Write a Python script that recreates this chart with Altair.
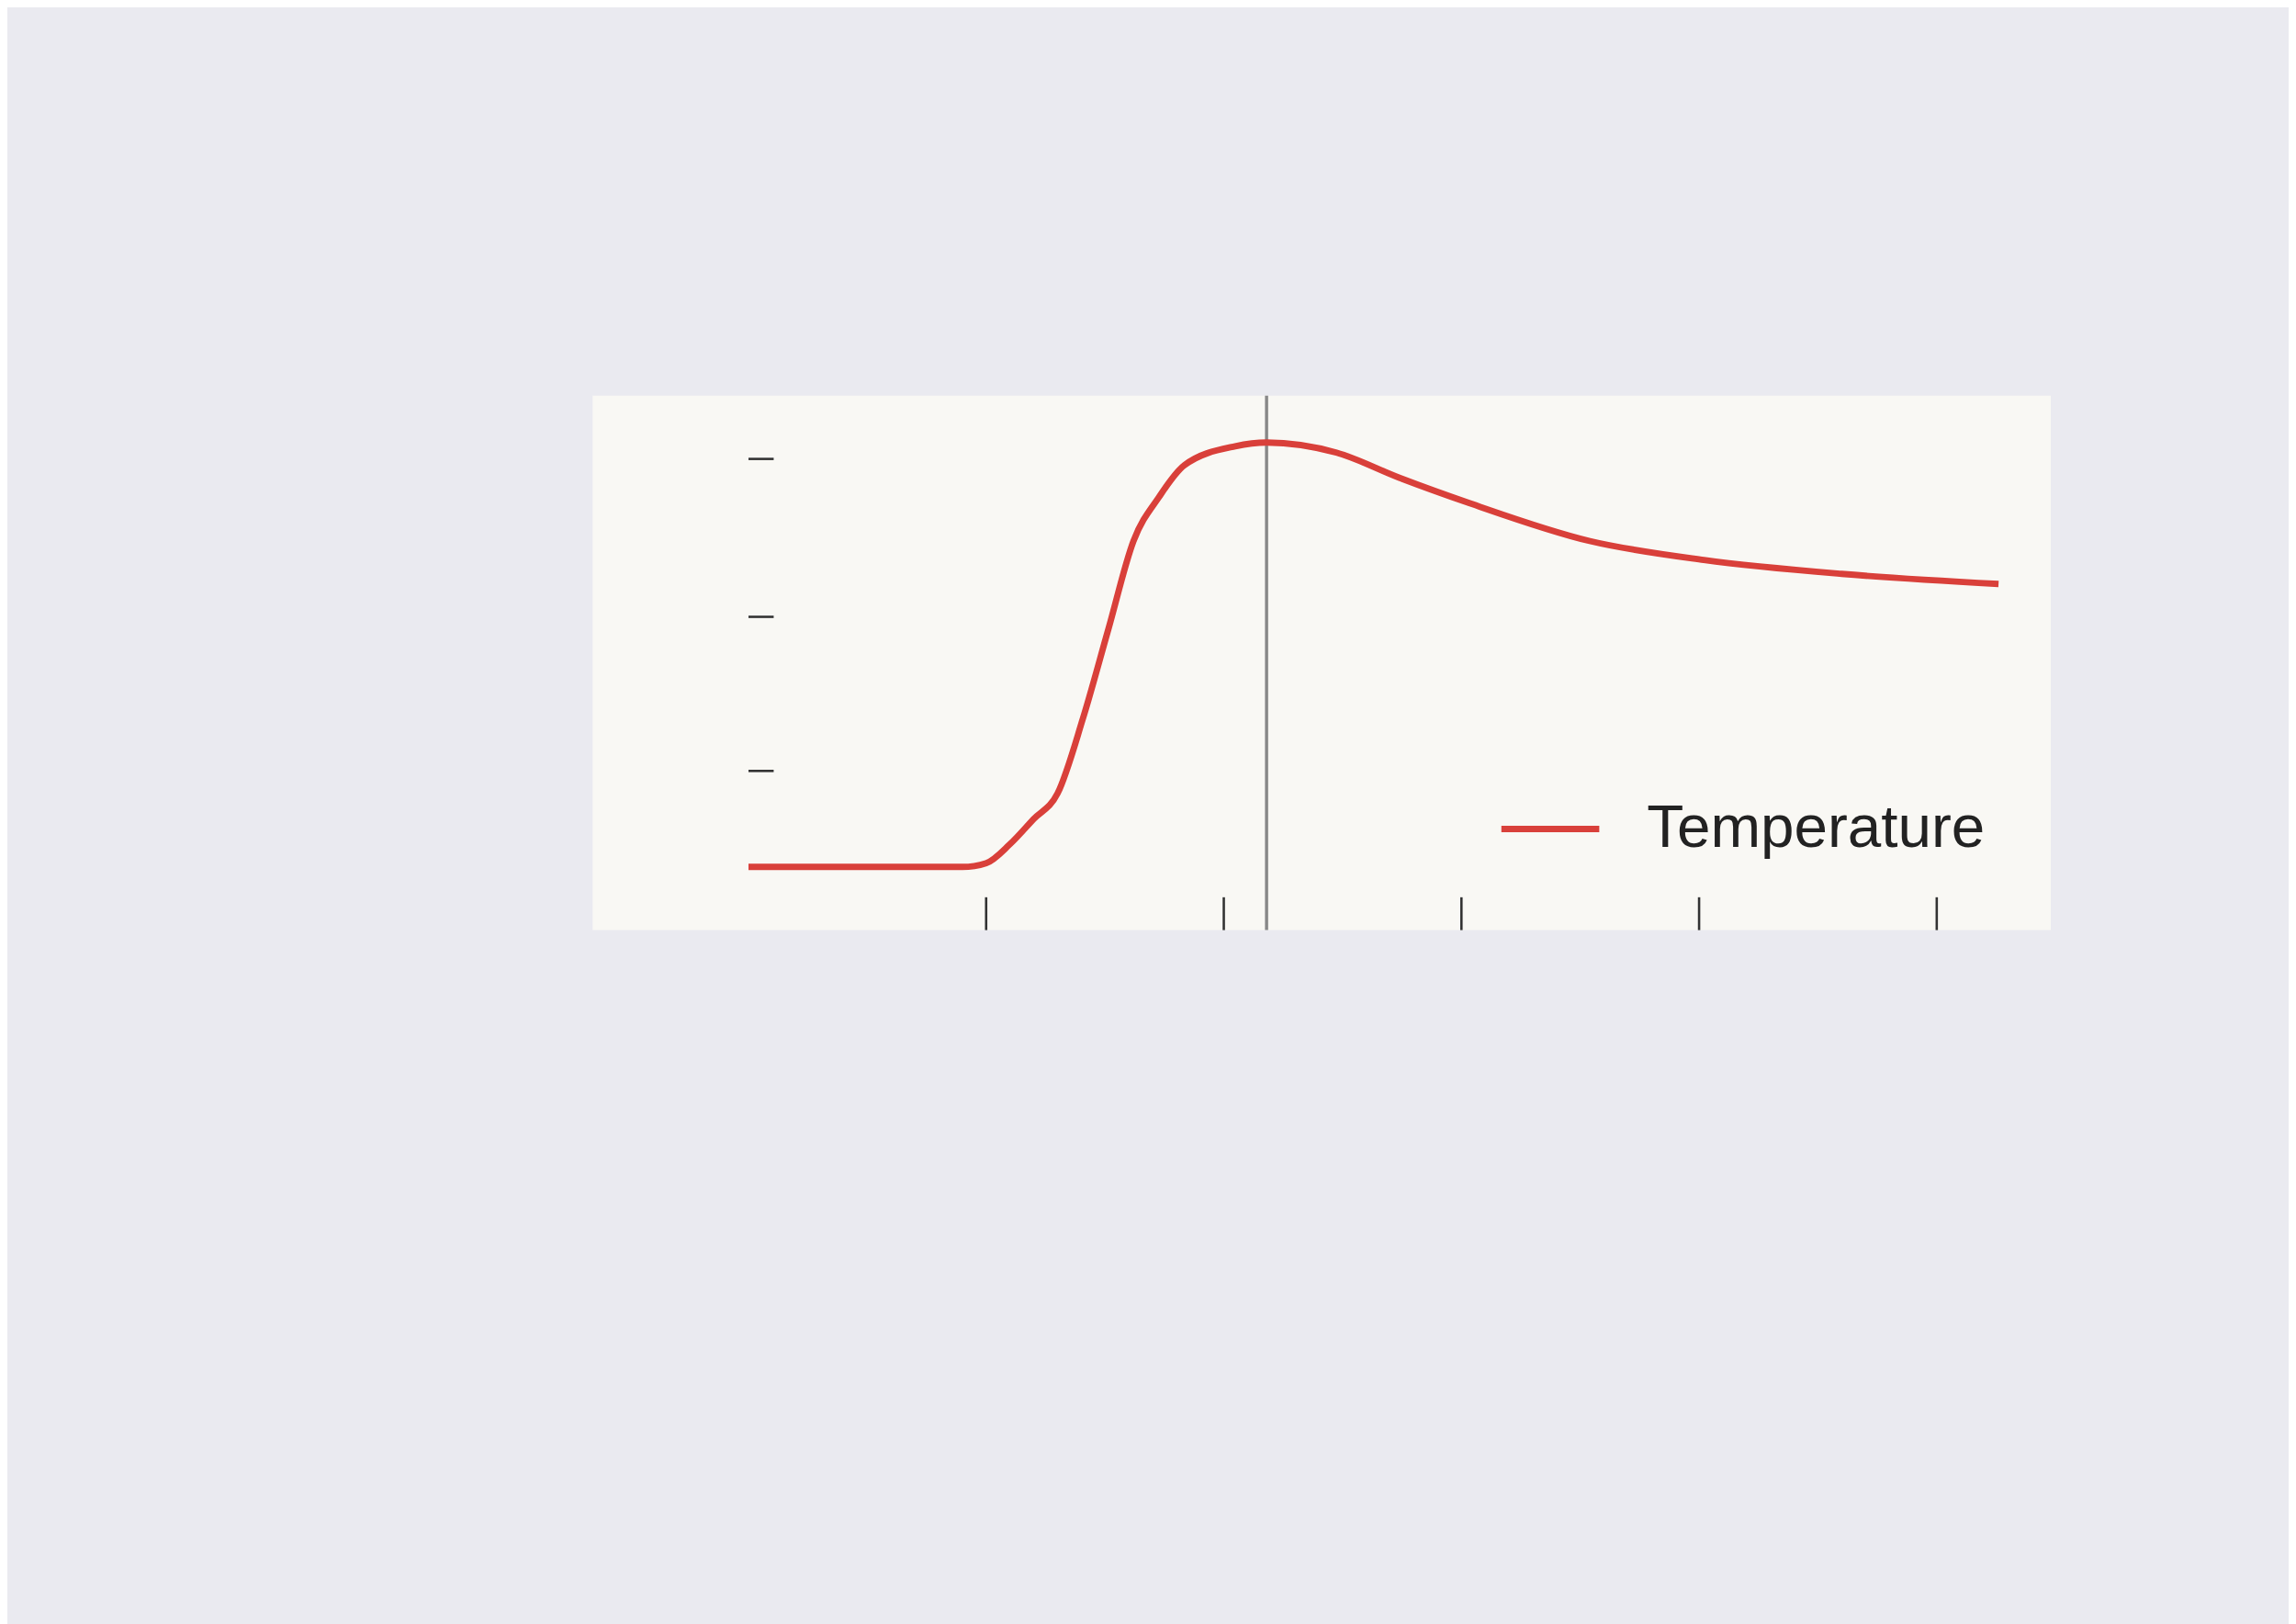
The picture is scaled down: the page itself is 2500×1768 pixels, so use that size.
import altair as alt
import pandas as pd
import numpy as np

# ---- data ----
temp_t = [0, 1, 2, 3, 4, 4.5, 5, 5.5, 6, 6.5, 7.04, 7.57, 8.1, 8.64, 9.17, 10.24, 10.9, 12.37, 13.7, 15.17, 17.7, 20.1, 23.0, 26.3]
temp_v = [0.50, 0.50, 0.50, 0.50, 0.50, 0.50, 0.53, 0.68, 0.88, 1.08, 1.68, 2.38, 3.08, 3.43, 3.68, 3.83, 3.86, 3.78, 3.58, 3.38, 3.08, 2.93, 2.82, 2.74]
flux_t = [0, 1, 2, 3, 4, 4.6, 5.0, 5.7, 6.24, 6.77, 7.17, 7.7, 8.24, 8.9, 9.7, 10.24, 10.9, 11.57, 12.37, 13.7, 15.2, 17.7, 22.0, 26.3]
flux_v = [0, 0, 0, 0, 0, 0.01, 0.03, 0.23, 0.53, 1.28, 1.88, 2.10, 1.98, 1.58, 0.88, 0.48, 0.0, -0.27, -0.47, -0.64, -0.69, -0.72, -0.73, -0.73]
x_ticks = [5, 10, 15, 20, 25]
x_labels = [0, 5, 10, 15, 20]
temp_ticks = [1.26, 2.48, 3.73]
flux_ticks = [0.5, 1.45]
heat_starts = [5.45, 6.5, 7.55, 8.6, 9.6]
cool_starts = [11.9, 13.57, 15.04, 16.5, 17.97, 19.44, 20.9, 22.4, 23.85, 25.3, 26.8]
split_t = 10.9

W, H1, H2 = 1577, 674, 593
XD = [0, 26.3]
YD1 = [0, 4.23]
YD2 = [-1.12, 2.6]
CARD = "#f9f8f4"
AX = "#333333"
RED = "#d9403a"
PURPLE = "#6a35c9"

grid = np.linspace(0, 27, 5000)
fv = np.interp(grid, flux_t, flux_v)

heat = []
for tb in heat_starts:
    m = (grid <= tb)
    g = grid[m][::-1]; c = fv[m][::-1]
    L = (tb - g) * 0.516
    idx = np.argmax(c <= L)
    heat.append(dict(x=tb, y=0, x2=float(g[idx]), y2=float(L[idx])))
cool = []
for tt in cool_starts:
    m = (grid <= tt)
    g = grid[m][::-1]; c = np.interp(g, flux_t, flux_v)
    L = -(tt - g) * 0.47
    idx = np.argmax(c >= L)
    cool.append(dict(x=tt, y=0, x2=float(g[idx]), y2=float(L[idx])))

def xs(axis=None):
    return alt.X("x:Q", scale=alt.Scale(domain=XD, nice=False, zero=False), axis=axis, title=None)

def ys(dom, axis=None):
    return alt.Y("y:Q", scale=alt.Scale(domain=dom, nice=False, zero=False), axis=axis, title=None)

def panel(dom, h, xaxis, yaxis, layers_extra):
    card = alt.Chart(pd.DataFrame([dict(x=-3.28, x2=27.4, y=dom[0] if dom is YD1 else -2.45, y2=dom[1])])).mark_rect(color=CARD).encode(
        x=xs(), x2="x2:Q", y=ys(dom), y2="y2:Q")
    axes = alt.Chart(pd.DataFrame([dict(x=-10, y=-10)])).mark_point(opacity=0).encode(x=xs(xaxis), y=ys(dom, yaxis))
    vline = alt.Chart(pd.DataFrame([dict(x=split_t, y=dom[0], y2=dom[1])])).mark_rule(color="#888888", strokeWidth=4).encode(
        x=xs(), y=ys(dom), y2="y2:Q")
    return alt.layer(card, vline, *layers_extra, axes).properties(width=W, height=h)

# ---- top panel ----
top_curve = alt.Chart(pd.DataFrame(dict(x=temp_t, y=temp_v))).mark_line(color=RED, strokeWidth=8, interpolate="monotone").encode(x=xs(), y=ys(YD1))
top_xt = alt.Chart(pd.DataFrame(dict(x=x_ticks, y=[0]*5, y2=[0.26]*5))).mark_rule(color=AX, strokeWidth=3).encode(x=xs(), y=ys(YD1), y2="y2:Q")
top_yt = alt.Chart(pd.DataFrame(dict(y=temp_ticks, x=[0]*3, x2=[0.53]*3))).mark_rule(color=AX, strokeWidth=3).encode(x=xs(), x2="x2:Q", y=ys(YD1))
leg1 = alt.Chart(pd.DataFrame([dict(x=15.84, x2=17.9, y=0.8)])).mark_rule(color=RED, strokeWidth=8).encode(x=xs(), x2="x2:Q", y=ys(YD1))
leg1t = alt.Chart(pd.DataFrame([dict(x=18.9, y=0.8, t="Temperature")])).mark_text(align="left", baseline="middle", fontSize=76, font="Liberation Sans", color="#222").encode(x=xs(), y=ys(YD1), text="t:N")

top = panel(YD1, H1,
            alt.Axis(labels=False, ticks=False, domain=True, domainColor=AX, domainWidth=3, grid=False, zindex=1),
            alt.Axis(values=[0.5], labelExpr="datum.value == 0.5 ? 'T₀' : ''", ticks=False, domainColor=AX, domainWidth=3,
                     grid=False, labelFontSize=52, labelColor="#555", labelPadding=4, title="Temperature", titleFontSize=70,
                     titleFont="Liberation Sans", titleFontWeight="normal", titleColor="#222", titlePadding=20, zindex=1),
            [top_xt, top_yt, top_curve, leg1, leg1t])

# ---- bottom panel ----
zero = alt.Chart(pd.DataFrame([dict(x=0, x2=26.8, y=0)])).mark_rule(color="#888888", strokeWidth=4).encode(x=xs(), x2="x2:Q", y=ys(YD2))
hh = alt.Chart(pd.DataFrame(heat)).mark_rule(color="#7a2a2a", strokeWidth=3).encode(x=xs(), y=ys(YD2), x2="x2:Q", y2="y2:Q")
cc = alt.Chart(pd.DataFrame(cool)).mark_rule(color="#2d2d7a", strokeWidth=3).encode(x=xs(), y=ys(YD2), x2="x2:Q", y2="y2:Q")
fl = alt.Chart(pd.DataFrame(dict(x=flux_t, y=flux_v))).mark_line(color=PURPLE, strokeWidth=8, interpolate="monotone").encode(x=xs(), y=ys(YD2))
bx = alt.Chart(pd.DataFrame(dict(x=x_ticks, y=[-1.12]*5, y2=[-0.86]*5))).mark_rule(color=AX, strokeWidth=3).encode(x=xs(), y=ys(YD2), y2="y2:Q")
by = alt.Chart(pd.DataFrame(dict(y=flux_ticks, x=[0]*2, x2=[0.53]*2))).mark_rule(color=AX, strokeWidth=3).encode(x=xs(), x2="x2:Q", y=ys(YD2))
byd = alt.Chart(pd.DataFrame([dict(x=0, y=-1.12, y2=1.78)])).mark_rule(color=AX, strokeWidth=3).encode(x=xs(), y=ys(YD2), y2="y2:Q")
leg2 = alt.Chart(pd.DataFrame([dict(x=16.05, x2=18.1, y=1.83)])).mark_rule(color=PURPLE, strokeWidth=8).encode(x=xs(), x2="x2:Q", y=ys(YD2))
txt = alt.Chart(pd.DataFrame([dict(x=19.1, y=1.83, t="Heat Flux")])).mark_text(align="left", baseline="middle", fontSize=76, font="Liberation Sans", color="#222").encode(x=xs(), y=ys(YD2), text="t:N")
lab = alt.Chart(pd.DataFrame([dict(x=18.85, y=0.3, t="Cooling"), dict(x=7.9, y=-0.32, t="Heating")])).mark_text(
    align="center", baseline="middle", fontSize=52, font="Liberation Sans", color="#333").encode(x=xs(), y=ys(YD2), text="t:N")

bottom = panel(YD2, H2,
               alt.Axis(values=x_labels, ticks=False, domain=True, domainColor=AX, domainWidth=3, grid=False, labelFontSize=62,
                        labelFont="Liberation Sans", labelColor="#333", labelPadding=22, title="Time", titleFontSize=66,
                        titleFont="Liberation Sans", titleFontWeight="normal", titleColor="#222", titlePadding=20, zindex=1),
               alt.Axis(values=[0], ticks=False, domain=False, grid=False, labelFontSize=62, labelFont="Liberation Sans",
                        labelColor="#333", labelPadding=12, title="Heat flux", titleFontSize=70, titleFont="Liberation Sans",
                        titleFontWeight="normal", titleColor="#222", titlePadding=14, titleY=362, zindex=1),
               [zero, hh, cc, bx, by, byd, fl, leg2, txt, lab])

chart = alt.vconcat(top, bottom, spacing=0).properties(
    background="#eaeaf0", padding={"left": 332, "top": 127, "right": 300, "bottom": 137}
).configure_view(stroke=None)

chart.save("out.html", embed_options={"renderer": "svg", "actions": False})
